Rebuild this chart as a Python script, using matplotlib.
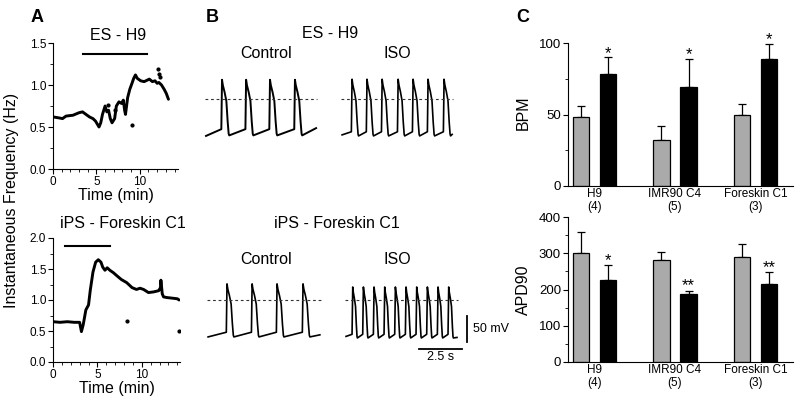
import matplotlib
matplotlib.use("Agg")
import matplotlib.pyplot as plt
from matplotlib.ticker import MultipleLocator
import numpy as np

plt.rcParams['font.family'] = ['Liberation Sans', 'DejaVu Sans']

# ---------------- Data ----------------
# Panel A: instantaneous frequency (Hz) vs time (min)
H9_T = [0.0, 0.6, 1.1, 1.5, 2.3, 3.0, 3.4, 3.8, 4.2, 4.6, 4.9, 5.3, 5.5, 5.7, 6.0,
        6.2, 6.4, 6.6, 6.8, 7.1, 7.3, 7.6, 7.9, 8.1, 8.25, 8.35, 8.6, 8.85, 9.1,
        9.3, 9.5, 9.7, 10.1, 10.5, 10.9, 11.1, 11.45, 11.75, 12.0, 12.2, 12.5,
        12.8, 13.05, 13.3]
H9_F = [0.62, 0.61, 0.60, 0.63, 0.64, 0.67, 0.68, 0.65, 0.62, 0.60, 0.57, 0.50, 0.55,
        0.65, 0.75, 0.68, 0.70, 0.60, 0.55, 0.60, 0.75, 0.80, 0.78, 0.82, 0.70,
        0.65, 0.85, 0.95, 1.02, 1.08, 1.12, 1.08, 1.05, 1.04, 1.06, 1.07, 1.04,
        1.05, 1.02, 1.03, 1.00, 0.95, 0.90, 0.83]
H9_OUT_T = [9.1, 12.1, 12.2, 12.3, 6.3, 7.1]
H9_OUT_F = [0.52, 1.19, 1.13, 1.09, 0.76, 0.70]
H9_ISO_BAR = [3.4, 10.8]

FS_T = [0.0, 0.8, 1.6, 2.4, 3.0, 3.2, 3.4, 3.7, 4.0, 4.2, 4.5, 4.8, 5.1, 5.4, 5.6,
        5.85, 6.1, 6.4, 6.8, 7.2, 7.7, 8.3, 8.9, 9.4, 9.8, 10.2, 10.75, 11.3, 11.9,
        12.1, 12.15, 12.3, 12.45, 12.8, 13.4, 14.0, 14.2]
FS_F = [0.65, 0.64, 0.65, 0.64, 0.64, 0.49, 0.60, 0.84, 0.92, 1.16, 1.45, 1.61,
        1.65, 1.61, 1.53, 1.48, 1.52, 1.48, 1.44, 1.39, 1.33, 1.28, 1.20, 1.17,
        1.19, 1.17, 1.12, 1.13, 1.15, 1.20, 1.32, 1.10, 1.05, 1.04, 1.03, 1.02, 1.00]
FS_OUT_T = [8.3, 14.15]
FS_OUT_F = [0.66, 0.50]
FS_ISO_BAR = [1.4, 6.4]

# Panel B: action potential traces (peak times in s, voltages in mV rel. dashed line)
H9_CTRL_PEAKS = [0.93, 2.33, 3.72, 5.17]
H9_ISO_PEAKS = [0.58, 1.45, 2.33, 3.26, 4.13, 5.00, 5.93]
FS_CTRL_PEAKS = [1.10, 2.56, 4.01, 5.52]
FS_ISO_PEAKS = [0.39, 1.01, 1.63, 2.25, 2.87, 3.49, 4.11, 4.73, 5.35, 5.97]
H9_CTRL_V = dict(dur=6.4, peak=37, trough=-70, pre=-58, start=-71, end=-56, apd=0.42)
H9_ISO_V = dict(dur=6.4, peak=38, trough=-71, pre=-63, start=-69, end=-68, apd=0.38)
FS_CTRL_V = dict(dur=6.5, peak=31, trough=-71, pre=-62, start=-71, end=-67, apd=0.40)
FS_ISO_V = dict(dur=6.45, peak=25, trough=-73, pre=-66, start=-70, end=-72, apd=0.27)
AP_SHAPE_T = [0.0, 0.12, 0.35, 0.60, 0.78, 0.92, 1.0]
AP_SHAPE_V = [1.0, 0.90, 0.78, 0.62, 0.25, 0.03, 0.0]
SCALE_MV = 50
SCALE_S = 2.5

# Panel C
GROUPS = ["H9\n(4)", "IMR90 C4\n(5)", "Foreskin C1\n(3)"]
BPM_CTRL = [48, 32, 50]
BPM_CTRL_ERR = [8, 10, 7.5]
BPM_ISO = [78, 69, 89]
BPM_ISO_ERR = [12, 20, 10.5]
BPM_SIG = ["*", "*", "*"]
APD_CTRL = [300, 281, 291]
APD_CTRL_ERR = [59, 22, 35]
APD_ISO = [226, 188, 215]
APD_ISO_ERR = [41, 8, 33]
APD_SIG = ["*", "**", "**"]

# ---------------- Figure ----------------
W, H = 800, 403
fig = plt.figure(figsize=(8.0, 4.03), dpi=100)


def px_axes(l, t, r, b):
    return fig.add_axes([l / W, 1 - b / H, (r - l) / W, (b - t) / H])


def ftext(x, y, s, **kw):
    fig.text(x / W, 1 - y / H, s, **kw)


def style_A(ax):
    for s in ['top', 'right']:
        ax.spines[s].set_visible(False)
    for s in ['left', 'bottom']:
        ax.spines[s].set_linewidth(0.8)
    ax.tick_params(which='major', length=3.5, width=0.8, labelsize=8.5, pad=1.5)
    ax.tick_params(which='minor', length=2, width=0.6)
    ax.xaxis.set_major_locator(MultipleLocator(5))
    ax.xaxis.set_minor_locator(MultipleLocator(1))
    ax.yaxis.set_major_locator(MultipleLocator(0.5))
    ax.yaxis.set_minor_locator(MultipleLocator(0.25))
    ax.yaxis.set_major_formatter(matplotlib.ticker.FormatStrFormatter('%.1f'))
    ax.set_xlabel("Time (min)", fontsize=11.5, labelpad=0)


# Panel A top
axA1 = px_axes(53, 43, 178, 169)
axA1.plot(H9_T, H9_F, color='black', lw=2.1, solid_capstyle='round', solid_joinstyle='round')
axA1.plot(H9_OUT_T, H9_OUT_F, 'o', color='black', ms=2)
axA1.plot(H9_ISO_BAR, [1.37, 1.37], color='black', lw=1.5)
axA1.set_xlim(0, 14.4)
axA1.set_ylim(0, 1.5)
style_A(axA1)

# Panel A bottom
axA2 = px_axes(53, 238, 180, 362)
axA2.plot(FS_T, FS_F, color='black', lw=2.1, solid_capstyle='round', solid_joinstyle='round')
axA2.plot(FS_OUT_T, FS_OUT_F, 'o', color='black', ms=2)
axA2.plot(FS_ISO_BAR, [1.87, 1.87], color='black', lw=1.5)
axA2.set_xlim(0, 14.3)
axA2.set_ylim(0, 2.0)
style_A(axA2)

ftext(118, 35, "ES - H9", ha='center', va='center', fontsize=11.5)
ftext(123, 223, "iPS - Foreskin C1", ha='center', va='center', fontsize=11.5)
ftext(12, 200, "Instantaneous Frequency (Hz)", ha='center', va='center',
      rotation=90, fontsize=11.5)

# Panel B
axB = px_axes(200, 60, 490, 370)
axB.set_xlim(0, 290 / 17.2)
axB.set_ylim((300 - 370) / 0.52, (300 - 60) / 0.52)
axB.axis('off')


def build_trace(peaks, p):
    ts = [0.0]
    vs = [p['start']]
    amp = p['peak'] - p['trough']
    for pk in peaks:
        ts.append(pk - 0.04)
        vs.append(p['pre'])
        for ft, fv in zip(AP_SHAPE_T, AP_SHAPE_V):
            ts.append(pk + ft * p['apd'])
            vs.append(p['trough'] + fv * amp)
    ts.append(p['dur'])
    vs.append(p['end'])
    return np.array(ts), np.array(vs)


TOP_OFF = (300 - 99) / 0.52
traces = [
    (H9_CTRL_PEAKS, H9_CTRL_V, 0.35, TOP_OFF, 1.4),
    (H9_ISO_PEAKS, H9_ISO_V, 8.26, TOP_OFF, 1.2),
    (FS_CTRL_PEAKS, FS_CTRL_V, 0.47, 0.0, 1.2),
    (FS_ISO_PEAKS, FS_ISO_V, 8.49, 0.0, 1.2),
]
for peaks, p, x0, y0, lw in traces:
    t, v = build_trace(peaks, p)
    axB.plot(t + x0, v + y0, color='black', lw=lw, solid_joinstyle='round')
    axB.plot([x0 - 0.05, x0 + p['dur'] + 0.05], [y0, y0], color='#333333',
             lw=0.8, dashes=(2.5, 2.5))

# scale bars
sx = 15.52
sy = -30.8
axB.plot([sx, sx], [sy, sy - SCALE_MV], color='black', lw=1.3)
axB.plot([15.23 - SCALE_S, 15.23], [-94.2, -94.2], color='black', lw=1.3)
axB.text(15.87, sy - SCALE_MV / 2, f"{SCALE_MV} mV", ha='left', va='center', fontsize=9)
axB.text(15.23 - SCALE_S / 2, -109, f"{SCALE_S} s", ha='center', va='center', fontsize=9)

ftext(330, 33, "ES - H9", ha='center', va='center', fontsize=11.5)
ftext(266, 54, "Control", ha='center', va='center', fontsize=11.5)
ftext(397, 54, "ISO", ha='center', va='center', fontsize=11.5)
ftext(337, 223, "iPS - Foreskin C1", ha='center', va='center', fontsize=11.5)
ftext(266, 259, "Control", ha='center', va='center', fontsize=11.5)
ftext(397, 259, "ISO", ha='center', va='center', fontsize=11.5)

# Panel C


def bar_panel(ax, ctrl, cerr, iso, ierr, sig, ylim, major, minor, star_off):
    x = np.arange(len(GROUPS))
    off = 0.168
    wd = 0.2
    ax.bar(x - off, ctrl, wd, color='#aaaaaa', edgecolor='black', lw=0.9, zorder=2)
    ax.bar(x + off, iso, wd, color='black', edgecolor='black', lw=0.9, zorder=2)
    z = np.zeros(len(x))
    ax.errorbar(x - off, ctrl, yerr=[z, cerr], fmt='none', ecolor='black',
                elinewidth=0.9, capsize=3.2, capthick=0.9, zorder=1)
    ax.errorbar(x + off, iso, yerr=[z, ierr], fmt='none', ecolor='black',
                elinewidth=0.9, capsize=3.2, capthick=0.9, zorder=1)
    for xi, top, s in zip(x + off, np.array(iso) + np.array(ierr), sig):
        ax.annotate(s, xy=(xi, top), xytext=(0, star_off), textcoords='offset points',
                    ha='center', va='center', fontsize=12)
    ax.set_xlim(-0.329, 2.466)
    ax.set_ylim(*ylim)
    ax.set_xticks(x)
    ax.set_xticklabels(GROUPS, fontsize=8.5, linespacing=1.1)
    ax.tick_params(axis='x', length=0, pad=1.5)
    ax.tick_params(axis='y', which='major', length=3.5, width=0.8, labelsize=9.5, pad=1.5)
    ax.tick_params(axis='y', which='minor', length=2, width=0.6)
    ax.yaxis.set_major_locator(MultipleLocator(major))
    ax.yaxis.set_minor_locator(MultipleLocator(minor))
    for s in ['top', 'right']:
        ax.spines[s].set_visible(False)
    for s in ['left', 'bottom']:
        ax.spines[s].set_linewidth(0.8)


axC1 = px_axes(568, 43, 793, 186)
bar_panel(axC1, BPM_CTRL, BPM_CTRL_ERR, BPM_ISO, BPM_ISO_ERR, BPM_SIG, (0, 100), 50, 25, 3)
axC2 = px_axes(568, 217, 793, 362)
bar_panel(axC2, APD_CTRL, APD_CTRL_ERR, APD_ISO, APD_ISO_ERR, APD_SIG, (0, 400), 100, 50, 3.5)

ftext(523, 113, "BPM", ha='center', va='center', rotation=90, fontsize=11.5)
ftext(523, 290, "APD90", ha='center', va='center', rotation=90, fontsize=11.5)

# Panel letters
ftext(37, 18, "A", ha='center', va='center', fontsize=13, fontweight='bold')
ftext(212, 17, "B", ha='center', va='center', fontsize=13, fontweight='bold')
ftext(523, 18, "C", ha='center', va='center', fontsize=13, fontweight='bold')

fig.savefig("out.png", dpi=100)
